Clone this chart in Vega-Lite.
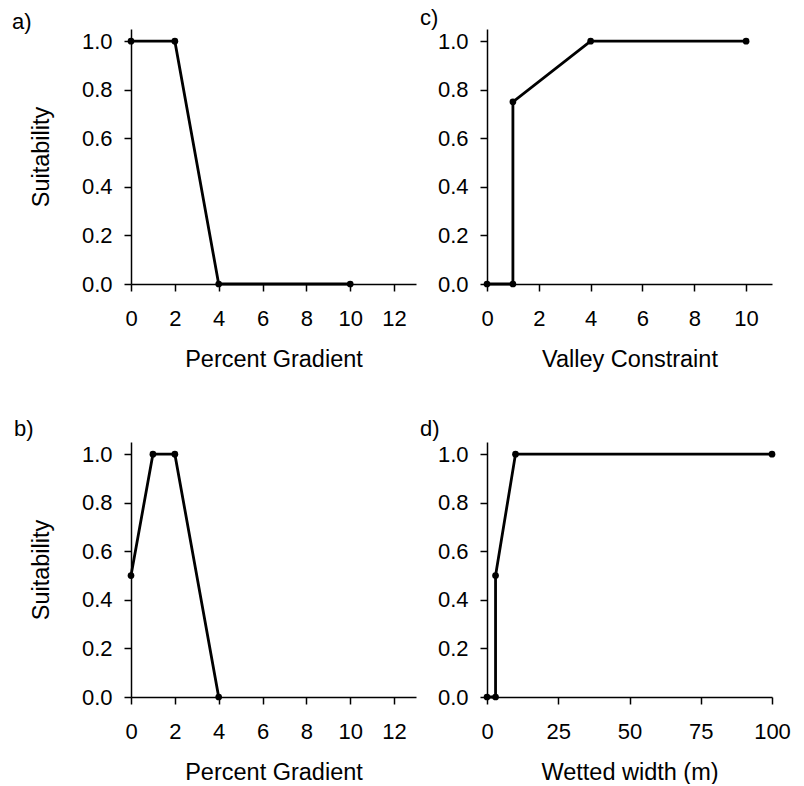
{
  "$schema": "https://vega.github.io/schema/vega-lite/v6.json",
  "background": "white",
  "padding": {"left": 12, "top": 7, "right": 12, "bottom": 0},
  "datasets": {
    "a": [
      {"i": 1, "x": 0, "y": 1},
      {"i": 2, "x": 2, "y": 1},
      {"i": 3, "x": 4, "y": 0},
      {"i": 4, "x": 10, "y": 0}
    ],
    "c": [
      {"i": 1, "x": 0, "y": 0},
      {"i": 2, "x": 1, "y": 0},
      {"i": 3, "x": 1, "y": 0.75},
      {"i": 4, "x": 4, "y": 1},
      {"i": 5, "x": 10, "y": 1}
    ],
    "b": [
      {"i": 1, "x": 0, "y": 0.5},
      {"i": 2, "x": 1, "y": 1},
      {"i": 3, "x": 2, "y": 1},
      {"i": 4, "x": 4, "y": 0}
    ],
    "d": [
      {"i": 1, "x": 0, "y": 0},
      {"i": 2, "x": 3, "y": 0},
      {"i": 3, "x": 3, "y": 0.5},
      {"i": 4, "x": 10, "y": 1},
      {"i": 5, "x": 100, "y": 1}
    ]
  },
  "columns": 2,
  "spacing": {"row": 158, "column": 71},
  "bounds": "flush",
  "concat": [
    {
      "data": {"name": "a"},
      "width": 285,
      "height": 255,
      "title": {"text": "a)", "anchor": "start", "frame": "group", "dx": -119, "offset": -5},
      "encoding": {
        "x": {"field": "x", "type": "quantitative", "scale": {"domain": [0, 13], "nice": false}, "axis": {"values": [0, 2, 4, 6, 8, 10, 12], "title": "Percent Gradient"}},
        "y": {"field": "y", "type": "quantitative", "scale": {"domain": [0, 1.05], "nice": false}, "axis": {"values": [0, 0.2, 0.4, 0.6, 0.8, 1], "format": ".1f", "title": "Suitability"}}
      },
      "layer": [
        {"mark": {"type": "line", "color": "black", "strokeWidth": 2.8}, "encoding": {"order": {"field": "i", "type": "quantitative"}}},
        {"mark": {"type": "point", "filled": true, "color": "black", "opacity": 1, "size": 45}}
      ]
    },
    {
      "data": {"name": "c"},
      "width": 285,
      "height": 255,
      "title": {"text": "c)", "anchor": "start", "frame": "group", "dx": -67, "offset": -1},
      "encoding": {
        "x": {"field": "x", "type": "quantitative", "scale": {"domain": [0, 11], "nice": false}, "axis": {"values": [0, 2, 4, 6, 8, 10], "title": "Valley Constraint"}},
        "y": {"field": "y", "type": "quantitative", "scale": {"domain": [0, 1.05], "nice": false}, "axis": {"values": [0, 0.2, 0.4, 0.6, 0.8, 1], "format": ".1f", "title": null}}
      },
      "layer": [
        {"mark": {"type": "line", "color": "black", "strokeWidth": 2.8}, "encoding": {"order": {"field": "i", "type": "quantitative"}}},
        {"mark": {"type": "point", "filled": true, "color": "black", "opacity": 1, "size": 45}}
      ]
    },
    {
      "data": {"name": "b"},
      "width": 285,
      "height": 255,
      "title": {"text": "b)", "anchor": "start", "frame": "group", "dx": -117, "offset": 1},
      "encoding": {
        "x": {"field": "x", "type": "quantitative", "scale": {"domain": [0, 13], "nice": false}, "axis": {"values": [0, 2, 4, 6, 8, 10, 12], "title": "Percent Gradient"}},
        "y": {"field": "y", "type": "quantitative", "scale": {"domain": [0, 1.05], "nice": false}, "axis": {"values": [0, 0.2, 0.4, 0.6, 0.8, 1], "format": ".1f", "title": "Suitability"}}
      },
      "layer": [
        {"mark": {"type": "line", "color": "black", "strokeWidth": 2.8}, "encoding": {"order": {"field": "i", "type": "quantitative"}}},
        {"mark": {"type": "point", "filled": true, "color": "black", "opacity": 1, "size": 45}}
      ]
    },
    {
      "data": {"name": "d"},
      "width": 285,
      "height": 255,
      "title": {"text": "d)", "anchor": "start", "frame": "group", "dx": -67, "offset": 1},
      "encoding": {
        "x": {"field": "x", "type": "quantitative", "scale": {"domain": [0, 100], "nice": false}, "axis": {"values": [0, 25, 50, 75, 100], "title": "Wetted width (m)"}},
        "y": {"field": "y", "type": "quantitative", "scale": {"domain": [0, 1.05], "nice": false}, "axis": {"values": [0, 0.2, 0.4, 0.6, 0.8, 1], "format": ".1f", "title": null}}
      },
      "layer": [
        {"mark": {"type": "line", "color": "black", "strokeWidth": 2.8}, "encoding": {"order": {"field": "i", "type": "quantitative"}}},
        {"mark": {"type": "point", "filled": true, "color": "black", "opacity": 1, "size": 45}}
      ]
    }
  ],
  "config": {
    "font": "Liberation Sans",
    "view": {"stroke": null},
    "title": {"fontSize": 22, "fontWeight": "normal", "color": "black", "font": "Liberation Sans", "baseline": "alphabetic"},
    "axis": {
      "grid": false,
      "domainColor": "black",
      "domainWidth": 1.5,
      "tickColor": "black",
      "tickWidth": 1.5,
      "tickSize": 7,
      "labelFont": "Liberation Sans",
      "labelFontSize": 22,
      "labelColor": "black",
      "titleFont": "Liberation Sans",
      "titleFontSize": 23.5,
      "titleFontWeight": "normal",
      "titleColor": "black"
    },
    "axisX": {"labelPadding": 17, "titlePadding": 18, "labelFlush": false},
    "axisY": {"labelPadding": 12, "titlePadding": 28, "labelFlush": false}
  }
}
